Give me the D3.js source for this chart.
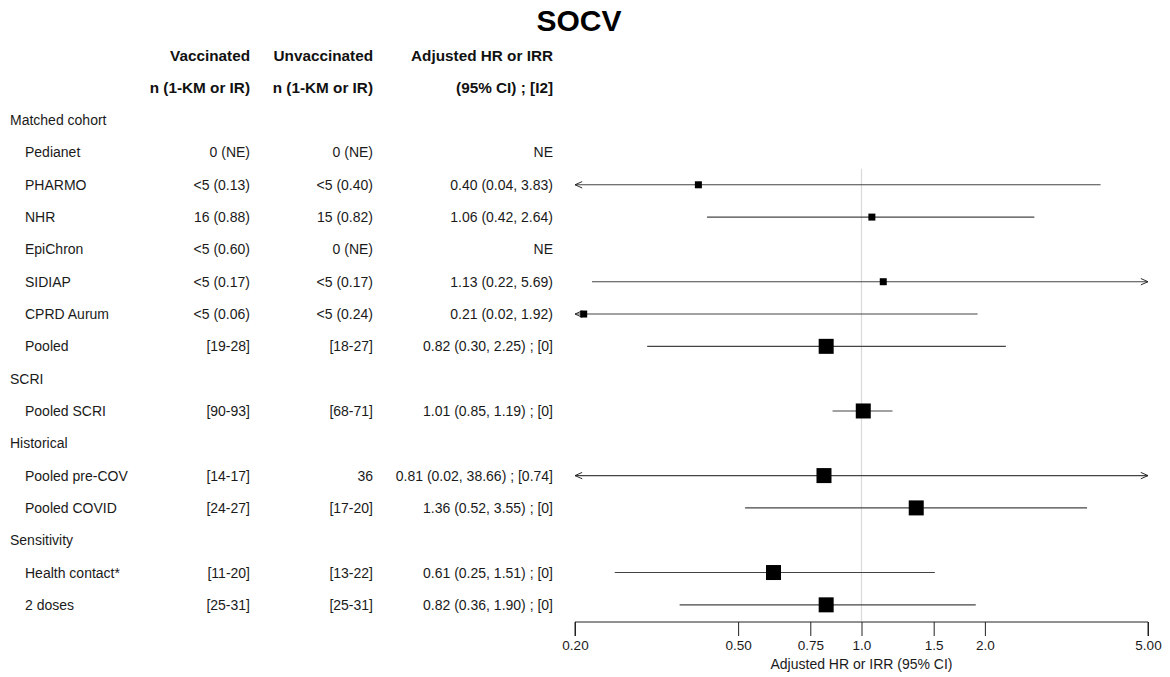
<!DOCTYPE html>
<html>
<head>
<meta charset="utf-8">
<script src="https://cdn.jsdelivr.net/npm/d3@7"></script>
<style>
  body { margin: 0; background: #fff; }
  svg { font-family: "Liberation Sans", Arial, sans-serif; }
</style>
</head>
<body>
<div id="chart"></div>
<script>
// Row labels (group headers have no values)
const labels = ['Matched cohort', 'Pedianet', 'PHARMO', 'NHR', 'EpiChron', 'SIDIAP', 'CPRD Aurum', 'Pooled',
    'SCRI', 'Pooled SCRI', 'Historical', 'Pooled pre-COV', 'Pooled COVID',
    'Sensitivity', 'Health contact*', '2 doses'];
const isGroup = [true, false, false, false, false, false, false, false,
    true, false, true, false, false, true, false, false];
const vaccinated = ['', '0 (NE)', '<5 (0.13)', '16 (0.88)', '<5 (0.60)', '<5 (0.17)', '<5 (0.06)', '[19-28]',
    '', '[90-93]', '', '[14-17]', '[24-27]', '', '[11-20]', '[25-31]'];
const unvaccinated = ['', '0 (NE)', '<5 (0.40)', '15 (0.82)', '0 (NE)', '<5 (0.17)', '<5 (0.24)', '[18-27]',
    '', '[68-71]', '', '36', '[17-20]', '', '[13-22]', '[25-31]'];
const hrText = ['', 'NE', '0.40 (0.04, 3.83)', '1.06 (0.42, 2.64)', 'NE', '1.13 (0.22, 5.69)', '0.21 (0.02, 1.92)', '0.82 (0.30, 2.25) ; [0]',
    '', '1.01 (0.85, 1.19) ; [0]', '', '0.81 (0.02, 38.66) ; [0.74]', '1.36 (0.52, 3.55) ; [0]',
    '', '0.61 (0.25, 1.51) ; [0]', '0.82 (0.36, 1.90) ; [0]'];
const est = [null, null, 0.40, 1.06, null, 1.13, 0.21, 0.82, null, 1.01, null, 0.81, 1.36, null, 0.61, 0.82];
const lower = [null, null, 0.04, 0.42, null, 0.22, 0.02, 0.30, null, 0.85, null, 0.02, 0.52, null, 0.25, 0.36];
const upper = [null, null, 3.83, 2.64, null, 5.69, 1.92, 2.25, null, 1.19, null, 38.66, 3.55, null, 1.51, 1.90];
const pooled = [false, false, false, false, false, false, false, true, false, true, false, true, true, false, true, true];

const xTicks = [0.2, 0.5, 0.75, 1.0, 1.5, 2.0, 5.0];
const xTickLabels = ['0.20', '0.50', '0.75', '1.0', '1.5', '2.0', '5.00'];

const width = 1170, height = 677;

const svg = d3.select('#chart')
    .append('svg')
    .attr('width', width)
    .attr('height', height);

const x = d3.scaleLog()
    .domain([0.2, 5])
    .range([575, 1148]);

const y = d3.scaleBand()
    .domain(d3.range(labels.length))
    .range([104, 621]);

const rowY = i => y(i) + y.bandwidth() / 2;

// Title
svg.append('text')
    .attr('x', 579)
    .attr('y', 31)
    .attr('text-anchor', 'middle')
    .style('font-size', '30px')
    .style('font-weight', 'bold')
    .text('SOCV');

// Column headers
const headers = [
    { x: 250, t: ['Vaccinated', 'n (1-KM or IR)'] },
    { x: 373, t: ['Unvaccinated', 'n (1-KM or IR)'] },
    { x: 553, t: ['Adjusted HR or IRR', '(95% CI) ; [I2]'] }
];
headers.forEach(h => {
    h.t.forEach((s, k) => {
        svg.append('text')
            .attr('x', h.x)
            .attr('y', 61 + k * 32.3)
            .attr('text-anchor', 'end')
            .style('font-size', '15.3px')
            .style('font-weight', 'bold')
            .style('fill', '#111')
            .text(s);
    });
});

// Table text
const rows = svg.append('g').style('font-size', '14px').style('fill', '#1a1a1a');
labels.forEach((d, i) => {
    const ty = rowY(i) + 5;
    rows.append('text')
        .attr('x', isGroup[i] ? 10 : 25)
        .attr('y', ty)
        .text(d);
    [[vaccinated, 250], [unvaccinated, 373], [hrText, 553]].forEach(([arr, cx]) => {
        if (arr[i]) {
            rows.append('text')
                .attr('x', cx)
                .attr('y', ty)
                .attr('text-anchor', 'end')
                .text(arr[i]);
        }
    });
});

// Null line at 1
svg.append('line')
    .attr('x1', x(1)).attr('x2', x(1))
    .attr('y1', rowY(2) - 16).attr('y2', 621)
    .style('stroke', '#d9d9d9')
    .style('stroke-width', 1.2);

// Arrow marker heads
const defs = svg.append('defs');
defs.append('marker')
    .attr('id', 'arrow')
    .attr('viewBox', '0 0 10 10')
    .attr('refX', 10).attr('refY', 5)
    .attr('markerWidth', 8).attr('markerHeight', 8)
    .attr('markerUnits', 'userSpaceOnUse')
    .attr('orient', 'auto-start-reverse')
    .append('path')
    .attr('d', 'M1,1 L10,5 L1,9')
    .style('fill', 'none')
    .style('stroke', '#222')
    .style('stroke-width', 1.2);

const [dMin, dMax] = x.domain();

// CI lines and boxes
const plot = svg.append('g');
est.forEach((e, i) => {
    if (e === null) return;
    const lo = Math.max(lower[i], dMin);
    const hi = Math.min(upper[i], dMax);
    const cy = rowY(i);
    const ln = plot.append('line')
        .attr('x1', x(lo)).attr('x2', x(hi))
        .attr('y1', cy).attr('y2', cy)
        .style('stroke', '#444')
        .style('stroke-width', 1.1);
    if (lower[i] < dMin) ln.attr('marker-start', 'url(#arrow)');
    if (upper[i] > dMax) ln.attr('marker-end', 'url(#arrow)');
    const s = pooled[i] ? 15 : 7;
    plot.append('rect')
        .attr('x', x(e) - s / 2)
        .attr('y', cy - s / 2)
        .attr('width', s)
        .attr('height', s)
        .style('fill', '#000');
});

// X axis
const xAxis = d3.axisBottom(x)
    .tickValues(xTicks)
    .tickFormat((d, i) => xTickLabels[i])
    .tickSize(14)
    .tickSizeOuter(0)
    .tickPadding(4);

const ax = svg.append('g')
    .attr('transform', 'translate(0,622)')
    .call(xAxis);
ax.select('.domain').style('stroke', '#222').attr('d', `M${x(dMin)},14V0H${x(dMax)}V14`);
ax.selectAll('.tick line').style('stroke', '#222');
ax.selectAll('.tick text')
    .style('font-family', '"Liberation Sans", Arial, sans-serif')
    .style('font-size', '13.5px')
    .style('fill', '#1a1a1a');

svg.append('text')
    .attr('x', x(1))
    .attr('y', 669)
    .attr('text-anchor', 'middle')
    .style('font-size', '14px')
    .style('fill', '#1a1a1a')
    .text('Adjusted HR or IRR (95% CI)');
</script>
</body>
</html>
